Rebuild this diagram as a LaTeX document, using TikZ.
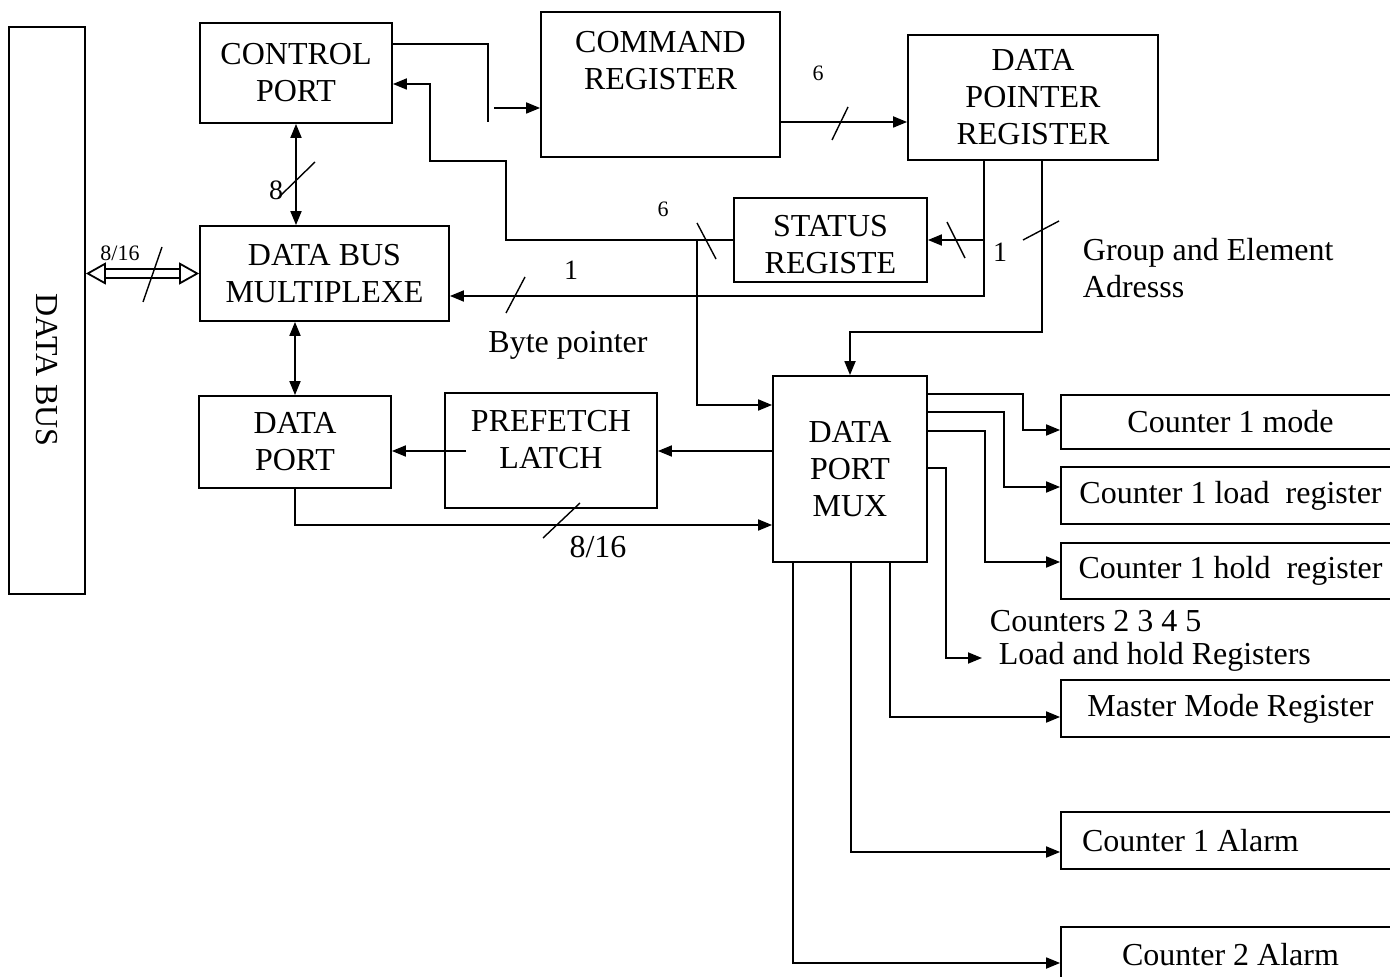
\documentclass[tikz,border=0pt]{standalone}
\usepackage{fontspec}
\setmainfont{Liberation Serif}
\usetikzlibrary{arrows.meta,positioning,calc}

\begin{document}
\begin{tikzpicture}[x=0.5pt, y=-0.5pt, line width=0.9pt, every node/.style={font=\fontsize{16}{18.5}\selectfont}, box/.style={draw, align=center, inner sep=0pt}, rbox/.style={box, minimum width=169.5pt, minimum height=28.5pt}, lbl/.style={inner sep=0pt}, wnum/.style={inner sep=0pt, font=\fontsize{11}{13}\selectfont}, wnumb/.style={inner sep=0pt, font=\fontsize{14}{16}\selectfont}, arr/.style={-{Triangle[length=7pt,width=5.5pt]}}, arrs/.style={{Triangle[length=7pt,width=5.5pt]}-{Triangle[length=7pt,width=5.5pt]}}, busarr/.style={double, double distance=3.5pt, {Triangle[open,length=10pt,width=11pt]}-{Triangle[open,length=10pt,width=11pt]}}, tick/.style={line width=0.7pt}]
\useasboundingbox (0,0) rectangle (1390,977);
% blocks
\node[box, minimum width=38pt, minimum height=283.5pt, label={[yshift=-29.75pt, rotate=-90]center:DATA BUS}] (databus) at (47,310.5) {};
\node[box, minimum width=96pt, minimum height=50pt] (ctrl) at (296,73) {CONTROL\\PORT};
\node[box, minimum width=119.5pt, minimum height=72.5pt, label={[align=center, yshift=11.75pt]center:COMMAND\\REGISTER}] (cmd) at (660.5,84.5) {};
\node[box, minimum width=125pt, minimum height=62.5pt] (dptr) at (1033,97.5) {DATA\\POINTER\\REGISTER};
\node[box, minimum width=96.5pt, minimum height=42pt, label={[align=center, yshift=-2.5pt]center:STATUS\\REGISTE}] (status) at (830.5,240) {};
\node[box, minimum width=124.5pt, minimum height=47.5pt] (dbmux) at (324.5,273.5) {DATA BUS\\MULTIPLEXE};
\node[box, minimum width=96pt, minimum height=46pt] (dport) at (295,442) {DATA\\PORT};
\node[box, minimum width=106pt, minimum height=57.5pt, label={[align=center, yshift=5.5pt]center:PREFETCH\\LATCH}] (latch) at (551,450.5) {};
\node[box, minimum width=77pt, minimum height=93pt] (mux) at (850,469) {DATA\\PORT\\MUX};
% counter registers
\node[rbox, minimum height=27pt] (c1mode) at (1230.5,422) {Counter 1 mode};
\node[rbox] (c1load) at (1230.5,495.5) {Counter 1 load \ register};
\node[rbox, minimum height=28pt] (c1hold) at (1230.5,571) {Counter 1 hold \ register};
\node[rbox] (master) at (1230.5,708.5) {Master Mode Register};
\node[rbox, align=flush left, inner xsep=10.5pt, text width=148.5pt] (c1alarm) at (1230.5,840.5) {Counter 1 Alarm};
\node[rbox, minimum height=28pt] (c2alarm) at (1230.5,955) {Counter 2 Alarm};
% texts
\node[lbl, anchor=west, align=left] (grp) at (1082,268) {Group and Element\\Adresss};
\node[lbl] (byte) at (568,345) {Byte pointer};
\node[lbl, anchor=west] (cnt) at (989,621) {Counters 2 3 4 5};
\node[lbl, anchor=west] (lh) at (998,657) {Load and hold Registers};
\node[wnum] (n6a) at (818,73) {6};
\node[wnum] (n6b) at (663,209) {6};
\node[wnumb] (n8) at (276,190) {8};
\node[wnum] (n816a) at (120,253) {8/16};
\node[wnumb] (n1a) at (571,270) {1};
\node[wnumb] (n1b) at (1000,252) {1};
\node[lbl] (n816b) at (598,547) {8/16};
% bus connections
\draw[busarr] (databus.east |- dbmux.west) -- (dbmux.west);
\draw[arrs] (ctrl.south) -- (ctrl.south |- dbmux.north);
\draw[arrs] (dport.north |- dbmux.south) -- (dport.north);
% control and command
\draw ([yshift=14.5pt]ctrl.east) -| (488,122) coordinate (brk);
\coordinate (cmdin) at (494,108);
\draw[arr] (cmdin) -- (cmdin -| cmd.west);
\draw[arr] ([yshift=-18.75pt]cmd.east) coordinate (c6) -- (c6 -| dptr.west);
\draw[arr] (status.west) -| (506,161) -| (430,84) -- ([yshift=-5.5pt]ctrl.east);
\coordinate (j6) at (697,240);
\draw[arr] (j6) |- ([yshift=32pt]mux.west);
% data pointer outputs
\coordinate (p1) at ([xshift=-24.5pt]dptr.south);
\coordinate (p2) at ([xshift=4.5pt]dptr.south);
\draw[arr] (p1) |- ([yshift=-11.25pt]dbmux.east);
\draw[arr] (p1 |- status.east) -- (status.east);
\draw[arr] (p2) |- ($(mux.north)+(0,-43)$) -- (mux.north);
% data path
\draw[arr] ([yshift=9pt]mux.west) coordinate (m1) -- (m1 -| latch.east);
\coordinate (p3) at ([xshift=11pt]latch.west |- m1);
\draw[arr] (p3) -- (p3 -| dport.east);
\draw[arr] (dport.south) |- ([yshift=-28pt]mux.west);
% mux outputs
\draw[arr] ([yshift=37.5pt]mux.east) -| (1023,430) coordinate (b1) -- (b1 -| c1mode.west);
\draw[arr] ([yshift=28.5pt]mux.east) -| (1004,487) coordinate (b2) -- (b2 -| c1load.west);
\draw[arr] ([yshift=19pt]mux.east) -| (985,562) coordinate (b3) -- (b3 -| c1hold.west);
\draw[arr] ([yshift=0.5pt]mux.east) -| (946,658) coordinate (b4) -- ([xshift=-8pt]lh.west |- b4);
\draw[arr] ([xshift=20pt]mux.south) |- ([yshift=-4.25pt]master.west);
\draw[arr] ([xshift=0.5pt]mux.south) |- ([yshift=-5.75pt]c1alarm.west);
\draw[arr] ([xshift=-28.5pt]mux.south) |- ([yshift=-4pt]c2alarm.west);
% width ticks
\draw[tick] (278,198) -- (315,162);
\draw[tick] (143,302) -- (162,247);
\draw[tick] (506,313) -- (525,277);
\draw[tick] (697,223) -- (716,259);
\draw[tick] (832,140) -- (848,107);
\draw[tick] (947,222) -- (965,258);
\draw[tick] (1023,240) -- (1059,221);
\draw[tick] (543,538) -- (580,503);
\end{tikzpicture}
\end{document}
